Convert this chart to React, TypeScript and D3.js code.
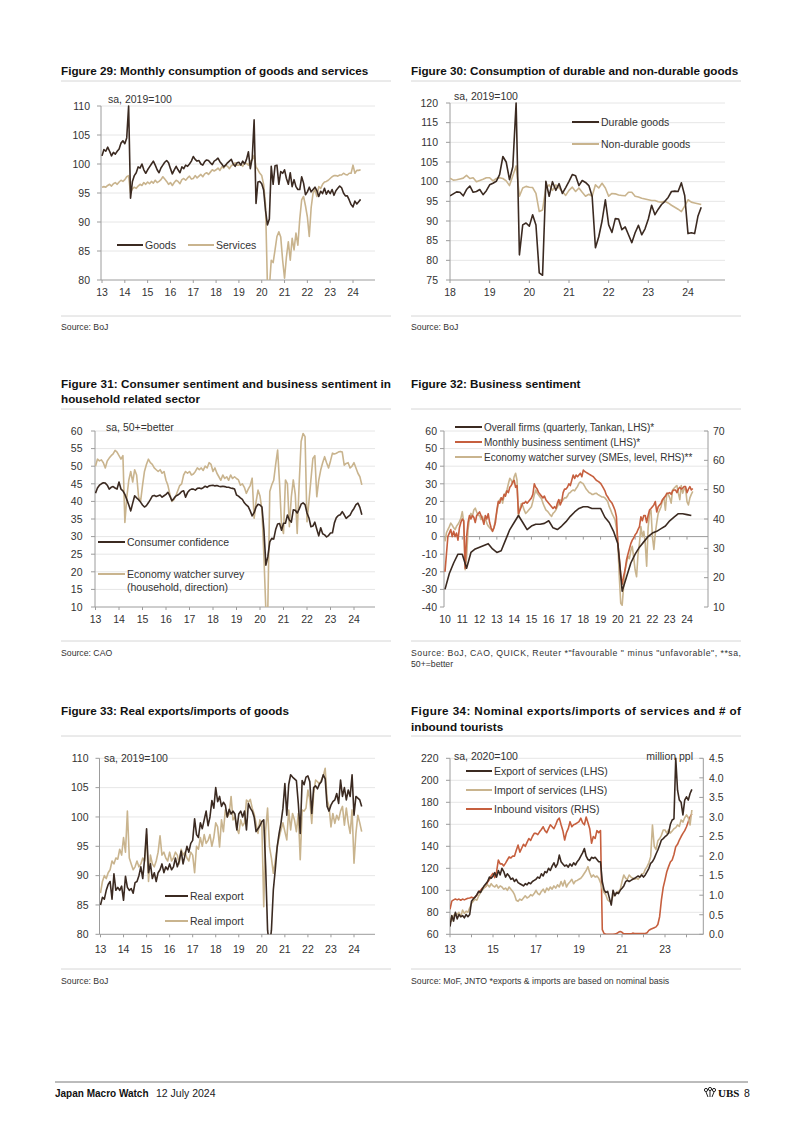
import React from "react";
import * as d3 from "d3";

const FONT = "'Liberation Sans', Arial, Helvetica, sans-serif";
const DARK = "#3b2a21";
const LIGHT = "#c9b48e";
const RED = "#c65f3e";
const GRID = "#e6e6e6";
const AXIS = "#9c9c9c";
const TEXT = "#333333";
const SEP = "#d6d6d6";

// ---------- Figure 29 (monthly from Jan 2013) ----------
const goods29 = [
  101.4, 102.5, 102.2, 102.9, 102.2, 101.4, 102.0, 101.7, 102.2, 102.6, 103.6, 104.0,
  103.5, 104.5, 110.0, 94.1, 97.0, 98.0, 98.5, 99.5, 99.3, 100.0, 99.0, 98.4,
  99.0, 99.5, 100.0, 100.5, 99.8, 99.0, 98.5, 99.3, 99.8, 100.3, 100.6, 100.2,
  99.2, 98.3, 99.0, 99.6, 99.0, 98.5, 99.5, 99.2, 99.8, 99.6, 100.0, 100.5,
  101.3, 100.8, 100.5, 100.6, 100.0, 99.8, 100.4, 100.7, 100.6, 100.2, 99.9, 100.5,
  100.7, 101.0, 100.4, 100.0, 99.5, 99.8, 100.2, 100.5, 100.8, 100.0, 99.6, 100.2,
  100.3, 99.8, 100.5, 100.0, 100.8, 102.1, 99.2, 101.0, 107.6, 93.2, 96.9, 97.0,
  96.6, 95.5, 92.0, 89.5, 90.5, 99.6, 96.5, 99.7, 99.8, 96.5, 98.7, 98.4,
  99.0, 97.5, 96.5, 98.5, 96.1, 97.3, 96.1, 95.6, 95.6, 97.8, 96.7, 94.7,
  95.2, 96.0, 95.2, 95.6, 96.0, 95.4, 94.4, 95.3, 94.9, 95.8, 94.8, 95.4,
  94.9, 95.6, 94.6, 95.4, 95.8, 96.2, 95.9, 95.0, 94.5, 94.5, 93.8, 93.0,
  92.6, 93.6, 93.1, 93.5, 93.9,
];
const services29 = [
  96.0, 96.1, 96.0, 96.3, 96.5, 96.2, 96.6, 96.8, 96.5, 96.9, 97.2, 97.0,
  97.3, 97.8, 98.0, 95.0, 95.7, 96.0, 95.8, 96.2, 96.5, 96.3, 96.8, 96.5,
  96.9, 96.6, 97.0, 96.7, 97.2, 96.8, 97.0, 97.3, 97.8, 97.4, 97.0, 96.5,
  96.8, 96.3, 96.8, 97.2, 97.0, 96.6, 97.3, 97.5, 97.2, 97.6, 97.9, 97.4,
  97.5, 98.0, 97.6, 97.9, 98.2, 97.8, 98.3, 98.5, 98.2, 98.6, 99.0, 98.8,
  99.0, 99.3, 98.9, 99.5, 99.3, 99.8, 99.6, 99.2, 99.7, 99.9, 100.2, 99.8,
  99.8, 100.0, 99.6, 100.2, 100.1, 99.8, 100.5, 100.7, 101.5, 99.5, 99.0, 98.4,
  98.0, 96.5, 93.0, 79.0, 78.5, 83.4, 83.0, 85.2, 87.5, 88.3, 87.4, 83.4,
  80.3, 84.0, 86.6, 83.4, 87.2, 85.2, 88.1, 86.0, 90.5, 93.8, 94.4, 92.8,
  90.9, 87.5, 92.5, 95.0, 95.6, 94.4, 96.1, 95.8, 96.5, 96.9, 97.0, 97.2,
  97.5, 97.8, 98.0, 98.0, 97.9, 98.1, 98.1, 98.4, 98.2, 98.1, 98.4, 98.4,
  99.8, 98.4, 98.9, 98.9, 99.0,
];

// ---------- Figure 30 (monthly from Jan 2018) ----------
const durable30 = [
  96.4, 96.9, 97.4, 97.3, 96.4, 98.0, 98.9, 97.3, 97.5, 98.0, 96.7, 97.7,
  99.2, 99.6, 100.1, 101.8, 106.4, 105.0, 100.5, 103.8, 120.0, 81.4, 89.0, 89.5,
  88.7, 91.6, 89.0, 76.8, 76.2, 100.1, 96.3, 100.0, 97.8, 99.5, 97.0, 98.5,
  100.1, 101.8, 101.5, 99.0, 100.3, 99.8, 99.0, 96.3, 83.2, 86.0, 90.0, 95.4,
  89.0, 87.1, 90.6, 90.5, 87.8, 88.5, 86.5, 84.5, 87.0, 88.9, 86.5, 88.0,
  90.5, 94.0, 91.6, 93.0, 94.2, 95.0, 96.0, 97.5, 97.6, 97.5, 99.7, 96.5,
  86.8, 87.0, 86.8, 91.2, 93.5,
];
const nondurable30 = [
  100.9, 100.4, 100.5, 100.7, 100.9, 101.6, 100.8, 101.0, 100.0, 100.3, 100.6, 101.0,
  101.0, 100.2, 100.8, 101.0, 100.8, 100.2, 99.0, 101.5, 104.0, 96.3, 98.4, 98.8,
  98.6, 98.5, 97.0, 92.4, 92.8, 98.4, 99.2, 97.8, 99.2, 98.4, 97.5, 96.5,
  97.8, 98.6, 97.5, 98.4, 97.3, 96.3, 96.8, 96.3, 99.2, 98.4, 99.6, 98.4,
  96.3, 97.0, 96.9, 96.6, 96.5, 96.4, 97.3, 97.3, 96.3, 96.1, 95.8, 95.6,
  95.4, 95.2, 95.2, 94.9, 94.8, 95.0, 94.6, 94.0, 93.5, 93.0, 92.4, 93.8,
  95.4, 94.8, 94.6, 94.4, 94.2,
];

// ---------- Figure 31 (monthly from Jan 2013) ----------
const consumerConf31 = [
  42.3, 43.8, 44.6, 45.0, 45.3, 45.2, 44.6, 43.5, 44.0, 44.2, 43.8, 43.5,
  45.5, 43.5, 43.0, 42.0, 40.5, 39.0, 37.3, 39.5, 41.6, 41.0, 40.5, 39.8,
  39.0, 38.4, 38.8, 39.6, 40.5, 41.5, 41.7, 41.4, 41.6, 41.8, 41.2, 41.6,
  42.0, 42.6, 41.5, 40.2, 40.8, 41.5, 41.8, 42.2, 42.8, 43.0, 41.2, 42.5,
  43.2, 43.5, 43.5, 43.2, 43.7, 43.8, 43.6, 43.9, 44.3, 44.0, 44.4, 44.5,
  44.6, 44.4, 44.5, 44.3, 44.2, 44.3, 44.2, 44.0, 44.0, 43.8, 43.7, 43.5,
  41.8, 41.5, 41.0, 40.6, 39.6, 39.0, 38.5, 37.3, 35.9, 36.8, 38.4, 39.2,
  39.0, 38.4, 31.9, 21.9, 24.3, 28.5, 29.5, 29.3, 32.0, 33.6, 33.7, 31.8,
  33.8, 33.8, 36.1, 34.7, 34.1, 37.6, 37.5, 36.7, 37.8, 39.2, 39.6, 39.1,
  36.7, 35.3, 32.8, 33.0, 34.1, 32.1, 30.2, 32.5, 30.8, 30.5, 29.9, 30.3,
  31.0, 31.1, 33.9, 35.4, 36.0, 36.2, 37.1, 36.2, 35.2, 35.7, 36.1, 37.2,
  38.0, 39.1, 39.5, 38.3, 36.2,
];
const watcherHH31 = [
  50.0, 52.0, 51.5, 51.8, 51.0, 49.5, 51.5, 52.3, 53.0, 53.5, 54.5, 54.0,
  53.0, 52.0, 53.0, 34.0, 41.3, 46.0, 48.5, 45.5, 49.0, 47.5, 41.3, 39.9,
  44.5, 48.5, 50.5, 52.0, 51.0, 50.5, 49.5, 49.0, 48.5, 49.0, 48.0, 48.5,
  46.0, 44.5, 42.0, 40.0, 40.5, 41.5, 43.0, 44.5, 45.0, 47.5, 48.5, 48.0,
  48.5, 47.5, 47.8, 48.5, 49.5, 49.0, 49.5, 48.8, 50.0, 49.5, 51.0, 50.5,
  48.5, 49.5, 48.0, 47.0, 46.0, 47.5, 46.5, 47.0, 46.0, 47.5, 46.5, 47.0,
  46.5, 46.1, 44.6, 45.0, 44.0, 42.3, 43.5, 44.5, 46.6, 35.2, 39.9, 43.2,
  41.5, 37.6, 24.3, 9.0, 9.8, 42.8, 44.7, 46.0, 50.5, 54.6, 45.0, 33.0,
  30.9, 46.1, 45.0, 32.8, 41.3, 46.1, 42.0, 30.9, 45.0, 57.0, 59.3, 58.4,
  34.2, 40.0, 46.1, 52.2, 53.0, 41.3, 46.0, 48.9, 51.0, 52.7, 51.0, 49.5,
  51.5, 53.7, 53.5, 53.7, 54.0, 54.2, 54.0, 50.3, 50.8, 51.0, 49.5, 50.0,
  51.0, 49.5, 48.0, 47.0, 44.7,
];

// ---------- Figure 32 ----------
// Tankan, quarterly from 2010 Q1 (LHS)
const tankan32 = [
  -30, -21, -15, -10,
  -10, -18, -9, -7,
  -6, -5, -4, -7,
  -9, -8, -2, 4,
  8, 12, 8, 4,
  6, 7, 7, 7.5,
  9, 5, 4, 6,
  8.5, 11.5, 14, 16,
  17, 17, 16, 16,
  16, 11, 8, 3,
  -4, -31, -23, -15,
  -10, -6, -3, 0,
  2, 3, 4.5, 6,
  9, 11, 13, 13,
  12.5, 12,
];
// Monthly business sentiment, monthly from Jan 2010 (LHS)
const monthlyBiz32 = [
  -20, -10, 0, 2, 4, 0, 3, 0, 2, -2, 5, 8,
  10, 9, -18, 0, 8, 12, 10, 12, 11, 8, 12, 13,
  14, 12, 10, 7, 12, 10, 13, 8, 5, 3, 5, 8,
  15, 20, 19, 22, 21, 24, 23, 26, 25, 28, 29, 31,
  32, 28, 29, 13, 15, 17, 19, 19, 20, 19, 20, 21,
  22, 24, 30, 28, 27, 25, 24, 23, 22, 23, 21, 20,
  19, 18, 17, 16, 17, 16, 19, 21, 18, 20, 25, 27,
  27, 28, 30, 29, 32, 35, 33, 35, 34, 35, 36, 34,
  37.8, 37, 36.5, 36, 35.5, 35, 34.5, 34, 33, 32, 31.5, 31,
  30.3, 29, 27.5, 26, 23.6, 22.5, 21, 20, 18.9, 17, 15, 11.3,
  -3.8, -12, -22, -27, -22.5, -19, -13.3, -10, -7, -4, -2, -0.8,
  1, 2, 4, 5.7, 11.3, 9, 12, 12, 8, 12, 15.1, 16,
  17, 18, 19.9, 14, 17, 18, 19, 21, 22, 23, 24.6, 24.6,
  25, 24, 26, 26.5, 26.5, 25, 27, 28, 27, 27.5, 28.4, 28.4,
  25, 27, 28.4, 26.5, 27.3,
];
// Economy watcher SMEs level, monthly from Jan 2010 (RHS)
const watcherSME32 = [
  32.4, 35.3, 36.4, 37.4, 38.6, 37.9, 37.0, 36.4, 37.5, 38.2, 39.1, 40.2,
  42.5, 38.8, 22.7, 26.8, 36.4, 40.2, 41.9, 40.8, 43.1, 43.7, 42.4, 41.2,
  41.2, 39.8, 40.9, 39.1, 40.3, 38.6, 37.6, 37.0, 36.4, 35.8, 37.0, 40.0,
  42.4, 45.3, 46.6, 47.2, 45.4, 47.8, 48.8, 49.9, 52.0, 53.9, 53.2, 52.0,
  54.4, 55.6, 53.2, 40.8, 43.6, 45.3, 44.5, 43.0, 41.9, 42.4, 43.0, 43.6,
  44.2, 46.0, 48.2, 49.9, 48.8, 48.2, 47.5, 46.9, 45.4, 44.2, 43.1, 42.7,
  42.1, 41.4, 40.9, 41.9, 42.4, 43.1, 44.2, 45.4, 46.5, 46.0, 46.6, 47.2,
  47.2, 47.8, 48.8, 49.0, 49.6, 49.9, 49.6, 50.4, 51.1, 52.2, 52.7, 52.3,
  52.0, 51.1, 50.2, 49.6, 49.0, 48.8, 48.4, 48.4, 48.7, 48.8, 48.4, 48.1,
  47.8, 47.5, 47.5, 47.2, 46.6, 45.9, 44.2, 43.1, 41.8, 40.8, 39.8, 37.0,
  31.7, 20.3, 11.3, 10.6, 17.1, 22.6, 24.9, 27.2, 26.5, 29.2, 30.7, 26.8,
  22.6, 20.3, 28.0, 31.7, 37.4, 34.0, 35.8, 31.7, 23.9, 37.0, 41.9, 43.0,
  34.0, 29.6, 35.2, 38.8, 41.9, 43.0, 44.2, 46.5, 47.2, 43.0, 48.8, 48.4,
  47.2, 45.4, 49.9, 50.5, 51.0, 51.4, 48.8, 46.6, 51.4, 48.8, 50.2, 50.5,
  45.9, 44.8, 47.2, 48.4, 49.4,
];

// ---------- Figure 33 (monthly from Jan 2013) ----------
const realExport33 = [
  85.0, 86.3, 86.0, 87.5, 88.5, 89.0, 86.0, 90.3, 87.5, 88.0, 87.5, 88.2,
  85.8, 89.9, 88.0, 87.5, 87.8, 87.0, 88.8, 89.0, 90.0, 91.5, 89.5, 93.0,
  98.0, 90.5, 92.0, 89.5, 90.5, 89.0, 90.5, 91.0, 92.0, 90.5, 91.5, 91.0,
  92.0, 91.0, 91.5, 93.0, 91.5, 92.5, 94.2, 92.0, 93.5, 95.0, 94.0, 95.5,
  96.0, 99.7, 97.0, 96.5, 99.0, 98.0, 99.5, 101.0, 98.5, 100.0, 102.8, 101.5,
  105.0, 102.6, 103.5, 101.8, 102.5, 102.0, 100.0, 101.3, 100.5, 101.0, 100.5, 97.8,
  100.5, 101.0, 100.0, 101.0, 97.8, 102.3, 101.5, 101.0, 100.0, 97.5, 98.0, 98.5,
  99.2, 99.5, 91.5, 80.7, 78.0, 80.7, 87.6, 91.0, 94.9, 97.2, 99.0, 101.5,
  105.7, 100.3, 105.5, 107.2, 106.8, 106.5, 106.2, 102.3, 97.2, 106.2, 105.5, 106.8,
  107.0, 106.0, 100.6, 105.0, 105.3, 104.8, 105.6, 106.0, 107.2, 106.5, 101.8, 101.0,
  102.0, 102.6, 102.9, 104.0, 102.3, 106.3, 103.5, 105.0, 102.9, 104.6, 103.5, 107.2,
  100.3, 103.5, 103.2, 102.9, 101.8,
];
const realImport33 = [
  87.0, 89.0, 90.0, 89.5, 90.5, 91.0, 92.5, 92.0, 93.0, 92.8, 94.5, 93.5,
  96.5, 94.0, 101.0, 93.0, 92.0, 91.0, 91.5, 92.5, 91.5, 92.0, 93.0, 92.5,
  97.0, 89.0, 93.5, 92.0, 91.5, 92.5, 94.0, 96.8, 93.5, 94.0, 93.0, 92.5,
  94.0, 92.5, 93.0, 94.0, 93.5, 92.0, 94.5, 93.5, 94.0, 93.0, 92.5, 94.0,
  93.5, 90.5, 95.0, 94.5, 96.5, 95.0, 97.0, 95.5, 96.0, 97.0, 95.0, 96.5,
  99.0, 98.3, 94.9, 99.5, 97.5, 101.2, 100.0, 100.5, 103.5, 99.5, 100.0, 98.0,
  97.2, 99.5, 98.5, 99.0, 102.9, 102.5, 103.0, 101.5, 100.5, 98.9, 97.2, 99.5,
  99.0, 84.7, 97.8, 101.5, 94.9, 93.0, 90.4, 92.5, 94.9, 96.5, 97.8, 99.0,
  97.5, 96.1, 101.2, 97.8, 100.6, 99.5, 97.5, 100.6, 92.7, 101.2, 101.0, 101.5,
  104.6, 102.9, 98.9, 104.0, 106.3, 106.0, 105.6, 106.3, 107.0, 108.3, 102.9, 101.8,
  98.3, 100.6, 98.9, 100.3, 99.5, 101.0, 101.8, 98.6, 101.5, 99.0, 97.2, 101.2,
  92.1, 97.2, 100.3, 99.0, 97.5,
];

// ---------- Figure 34 (monthly from Jan 2013) ----------
const exportServices34 = [
  67, 77, 72, 80, 74, 78, 76, 77, 75, 78, 76, 78,
  90, 92, 94, 96, 99, 98, 101, 104, 106, 108, 112, 111,
  113, 116, 112, 118, 114, 120, 117, 112, 115, 113, 110, 111,
  108, 110, 107, 106, 105, 104, 106, 105, 107, 106, 108, 109,
  110, 112, 111, 115, 113, 117, 116, 120, 118, 122, 125, 121,
  124, 132, 126, 124, 122, 123, 121, 124, 122, 125, 123, 126,
  128, 131, 134, 138, 131, 128, 127, 130, 129, 130, 128, 126,
  126, 107.8, 100.3, 98, 99, 92.7, 86.6, 100, 95, 98, 97, 100,
  101.8, 104, 107.8, 109, 108, 109, 110, 110.9, 112, 113, 112, 114,
  112, 114, 116.9, 120, 124.5, 126, 129, 133, 136.6, 141, 145.7, 147,
  148.7, 150, 152, 160, 163.9, 165, 220, 191, 182, 180, 168.5, 182,
  185, 182, 188, 191.8,
];
const importServices34 = [
  75, 72, 77, 79, 78, 80, 76, 82, 79, 81, 80, 84,
  88, 90, 92, 91, 95, 98, 100, 102, 104, 105, 103, 106,
  104, 103, 105, 102, 104, 103, 101, 102, 100, 103, 101, 99,
  96, 91, 90, 92, 91, 93, 95, 93, 94, 96, 95, 97,
  100, 97, 96, 99, 101, 98, 102, 100, 103, 101, 104, 102,
  105, 103, 108, 104, 109, 103, 106, 107.8, 110, 106, 108.5, 109,
  110, 111, 113, 115.5, 118, 121.5, 116, 112, 114, 112, 113, 111,
  107, 101, 98, 95.7, 91.2, 90, 89.7, 95, 96, 98, 99, 100.3,
  108, 113.9, 111, 110, 113.9, 112, 111, 110, 111, 110, 112, 115,
  115, 119, 121.5, 125, 130.6, 159.4, 140, 137, 145, 147, 150, 154.8,
  154.8, 152, 155, 152, 154, 156, 157, 159.4, 158, 164, 162, 166,
  168.5, 166, 159.4, 173,
];
const inbound34 = [
  0.64, 0.85, 0.88, 0.9, 0.88, 0.9, 0.87, 0.9, 0.88, 0.9, 0.92, 0.93,
  0.95, 0.93, 0.95, 1.0, 1.09, 1.12, 1.18, 1.2, 1.22, 1.34, 1.4, 1.5,
  1.56, 1.45, 1.6, 1.9, 1.8, 1.8, 1.75, 1.82, 1.9, 1.98, 1.95, 2.0,
  2.0, 2.15, 2.28, 2.1, 2.2, 2.3, 2.25, 2.35, 2.45, 2.4, 2.5, 2.58,
  2.58, 2.55, 2.62, 2.68, 2.75, 2.65, 2.6, 2.7, 2.8, 2.75, 2.7, 2.8,
  2.92, 2.97, 2.8, 2.65, 2.41, 2.6, 2.7, 2.88, 2.75, 2.8, 2.82, 2.85,
  2.88, 2.97, 2.85, 2.8, 3.0, 2.85, 2.7, 2.33, 2.5, 2.45, 2.65, 2.6,
  2.65, 0.12, 0.02, 0.0, 0.0, 0.0, 0.0, 0.0, 0.01, 0.02, 0.05, 0.07,
  0.05, 0.01, 0.01, 0.01, 0.01, 0.01, 0.03, 0.02, 0.02, 0.02, 0.02, 0.02,
  0.02, 0.02, 0.04, 0.1, 0.13, 0.15, 0.17, 0.19, 0.25, 0.45, 0.88, 1.2,
  1.39, 1.6, 1.73, 1.85, 1.9, 2.04, 2.24, 2.3, 2.41, 2.5, 2.58, 2.65,
  2.75, 2.88, 3.0, 3.08,
];

// ---------- tick labels ----------
const yTicks29 = [80, 85, 90, 95, 100, 105, 110];
const xYears29 = [13, 14, 15, 16, 17, 18, 19, 20, 21, 22, 23, 24];
const yTicks30 = [75, 80, 85, 90, 95, 100, 105, 110, 115, 120];
const xYears30 = [18, 19, 20, 21, 22, 23, 24];
const yTicks31 = [10, 15, 20, 25, 30, 35, 40, 45, 50, 55, 60];
const yTicks32L = [-40, -30, -20, -10, 0, 10, 20, 30, 40, 50, 60];
const yTicks32R = [10, 20, 30, 40, 50, 60, 70];
const xYears32 = [10, 11, 12, 13, 14, 15, 16, 17, 18, 19, 20, 21, 22, 23, 24];
const yTicks33 = [80, 85, 90, 95, 100, 105, 110];
const yTicks34L = [60, 80, 100, 120, 140, 160, 180, 200, 220];
const yTicks34R = [0, 0.5, 1, 1.5, 2, 2.5, 3, 3.5, 4, 4.5];
const xTicks34 = [13, 14, 15, 16, 17, 18, 19, 20, 21, 22, 23, 24];
const xLabels34 = [13, 15, 17, 19, 21, 23];

type Series = { values: number[]; start: number; step: number; color: string; width?: number; right?: boolean };

type ChartProps = {
  id: string;
  xDomain: [number, number];
  xRange: [number, number];
  left: number;
  right: number;
  top: number;
  bottom: number;
  yDomain: [number, number];
  yTicks: number[];
  yLabelX: number;
  yRDomain?: [number, number];
  yRTicks?: number[];
  yRLabelX?: number;
  yRFmt?: (v: number) => string;
  grid: number[];
  xAxisAt?: number;
  xTicks: number[];
  xLabels: number[];
  xLabelY: number;
  series: Series[];
};

function Chart(p: ChartProps) {
  const x = d3.scaleLinear().domain(p.xDomain).range(p.xRange);
  const y = d3.scaleLinear().domain(p.yDomain).range([p.bottom, p.top]);
  const yR = p.yRDomain ? d3.scaleLinear().domain(p.yRDomain).range([p.bottom, p.top]) : null;
  const axisY = p.xAxisAt !== undefined ? y(p.xAxisAt) : p.bottom;
  const mk = (s: Series) => {
    const sy = s.right && yR ? yR : y;
    return d3
      .line<number>()
      .x((_, i) => x(s.start + i * s.step))
      .y((d) => sy(d))(s.values) as string;
  };
  return (
    <g fontFamily={FONT}>
      <defs>
        <clipPath id={p.id}>
          <rect x={p.left} y={p.top - 3} width={p.right - p.left} height={p.bottom - p.top + 3} />
        </clipPath>
      </defs>
      {p.grid.map((t) => (
        <line key={"g" + t} x1={p.left} x2={p.right} y1={y(t)} y2={y(t)} stroke={GRID} strokeWidth={1} />
      ))}
      <line x1={p.left} x2={p.left} y1={p.top} y2={p.bottom} stroke={AXIS} strokeWidth={1} />
      {p.yTicks.map((t) => (
        <g key={"y" + t}>
          <line x1={p.left - 4} x2={p.left} y1={y(t)} y2={y(t)} stroke={AXIS} />
          <text x={p.yLabelX} y={y(t)} dy="0.36em" textAnchor="end" fontSize={10.5} fill={TEXT}>
            {String(t)}
          </text>
        </g>
      ))}
      {yR && (
        <g>
          <line x1={p.right} x2={p.right} y1={p.top} y2={p.bottom} stroke={AXIS} strokeWidth={1} />
          {(p.yRTicks || []).map((t) => (
            <g key={"r" + t}>
              <line x1={p.right - 4} x2={p.right} y1={yR(t)} y2={yR(t)} stroke={AXIS} />
              <text x={p.yRLabelX} y={yR(t)} dy="0.36em" textAnchor="start" fontSize={10.5} fill={TEXT}>
                {p.yRFmt ? p.yRFmt(t) : String(t)}
              </text>
            </g>
          ))}
        </g>
      )}
      <line x1={p.left} x2={p.right} y1={axisY} y2={axisY} stroke={AXIS} strokeWidth={1} />
      {p.xTicks.map((t) => (
        <line key={"xt" + t} x1={x(t)} x2={x(t)} y1={axisY} y2={axisY + 3} stroke={AXIS} />
      ))}
      {p.xLabels.map((t) => (
        <text key={"xl" + t} x={x(t)} y={p.xLabelY} textAnchor="middle" fontSize={10.5} fill={TEXT}>
          {String(t)}
        </text>
      ))}
      <g clipPath={`url(#${p.id})`}>
        {p.series.map((s, i) => (
          <path key={i} d={mk(s)} fill="none" stroke={s.color} strokeWidth={s.width ?? 1.6} strokeLinejoin="round" />
        ))}
      </g>
    </g>
  );
}

function Legend({ x1, x2, y, color, label, lines, width, fontSize }: { x1: number; x2: number; y: number; color: string; label?: string; lines?: string[]; width?: number; fontSize?: number }) {
  const ls = lines || [label || ""];
  return (
    <g fontFamily={FONT}>
      <line x1={x1} x2={x2} y1={y} y2={y} stroke={color} strokeWidth={width ?? 2} />
      {ls.map((l, i) => (
        <text key={i} x={x2 + 2} y={y + 3.7 + i * 13} fontSize={fontSize ?? 10.5} fill={TEXT}>
          {l}
        </text>
      ))}
    </g>
  );
}

function Title({ x, y, lines, justify }: { x: number; y: number; lines: string[]; justify?: number }) {
  return (
    <g fontFamily={FONT} fontWeight="bold" fontSize={11.7} fill="#111">
      {lines.map((l, i) =>
        i === 0 && justify && lines.length > 1 ? (
          <text key={i} x={x} y={y} textLength={justify} lengthAdjust="spacing">
            {l}
          </text>
        ) : (
          <text key={i} x={x} y={y + i * 15.5}>
            {l}
          </text>
        )
      )}
    </g>
  );
}

function Source({ x, y, lines, justify }: { x: number; y: number; lines: string[]; justify?: number }) {
  return (
    <g fontFamily={FONT} fontSize={8.7} fill={TEXT}>
      {lines.map((l, i) =>
        i === 0 && justify && lines.length > 1 ? (
          <text key={i} x={x} y={y} textLength={justify} lengthAdjust="spacing">
            {l}
          </text>
        ) : (
          <text key={i} x={x} y={y + i * 11}>
            {l}
          </text>
        )
      )}
    </g>
  );
}

function Sep({ x1, x2, y }: { x1: number; x2: number; y: number }) {
  return <line x1={x1} x2={x2} y1={y} y2={y} stroke={SEP} strokeWidth={1} />;
}

export default function App() {
  return (
    <svg width={802} height={1134} style={{ position: "absolute", left: 0, top: 0, background: "#fff" }}>
      <rect x={0} y={0} width={802} height={1134} fill="#fff" />

      {/* ---------- Figure 29 ---------- */}
      <Title x={61} y={75} lines={["Figure 29: Monthly consumption of goods and services"]} />
      <Sep x1={61} x2={391} y={81} />
      <Chart
        id="c29"
        xDomain={[13, 24]}
        xRange={[102, 353]}
        left={101}
        right={375}
        top={106}
        bottom={280}
        yDomain={[80, 110]}
        yTicks={yTicks29}
        yLabelX={90}
        grid={[85, 90, 95, 100, 105, 110]}
        xTicks={xYears29}
        xLabels={xYears29}
        xLabelY={296}
        series={[
          { values: services29, start: 13, step: 1 / 12, color: LIGHT },
          { values: goods29, start: 13, step: 1 / 12, color: DARK },
        ]}
      />
      <text x={108} y={102.5} fontFamily={FONT} fontSize={10.5} fill={TEXT}>sa, 2019=100</text>
      <Legend x1={117} x2={143} y={245} color={DARK} label="Goods" />
      <Legend x1={188} x2={214} y={245} color={LIGHT} label="Services" />
      <Sep x1={61} x2={391} y={316} />
      <Source x={61} y={330} lines={["Source: BoJ"]} />

      {/* ---------- Figure 30 ---------- */}
      <Title x={411} y={75} lines={["Figure 30: Consumption of durable and non-durable goods"]} />
      <Sep x1={411} x2={741} y={81} />
      <Chart
        id="c30"
        xDomain={[18, 24]}
        xRange={[450, 688]}
        left={450}
        right={725}
        top={103}
        bottom={280}
        yDomain={[75, 120]}
        yTicks={yTicks30}
        yLabelX={438}
        grid={[80, 85, 90, 95, 100, 105, 110, 115, 120]}
        xTicks={xYears30}
        xLabels={xYears30}
        xLabelY={296}
        series={[
          { values: nondurable30, start: 18, step: 1 / 12, color: LIGHT },
          { values: durable30, start: 18, step: 1 / 12, color: DARK },
        ]}
      />
      <text x={454} y={100} fontFamily={FONT} fontSize={10.5} fill={TEXT}>sa, 2019=100</text>
      <Legend x1={572} x2={599} y={122} color={DARK} label="Durable goods" />
      <Legend x1={572} x2={599} y={144} color={LIGHT} label="Non-durable goods" />
      <Sep x1={411} x2={741} y={316} />
      <Source x={411} y={330} lines={["Source: BoJ"]} />

      {/* ---------- Figure 31 ---------- */}
      <Title
        x={61}
        y={387.5}
        justify={330}
        lines={["Figure 31: Consumer sentiment and business sentiment in", "household related sector"]}
      />
      <Sep x1={61} x2={391} y={409} />
      <Chart
        id="c31"
        xDomain={[13, 24]}
        xRange={[95.5, 354]}
        left={95}
        right={375}
        top={431}
        bottom={607}
        yDomain={[10, 60]}
        yTicks={yTicks31}
        yLabelX={82.5}
        grid={[15, 20, 25, 30, 35, 40, 45, 50, 55, 60]}
        xTicks={xYears29}
        xLabels={xYears29}
        xLabelY={623}
        series={[
          { values: watcherHH31, start: 13, step: 1 / 12, color: LIGHT },
          { values: consumerConf31, start: 13, step: 1 / 12, color: DARK },
        ]}
      />
      <text x={106} y={431} fontFamily={FONT} fontSize={10.5} fill={TEXT}>sa, 50+=better</text>
      <Legend x1={98} x2={125} y={542} color={DARK} label="Consumer confidence" />
      <Legend x1={98} x2={125} y={574} color={LIGHT} lines={["Economy watcher survey", "(household, direction)"]} />
      <Sep x1={61} x2={391} y={641} />
      <Source x={61} y={656} lines={["Source: CAO"]} />

      {/* ---------- Figure 32 ---------- */}
      <Title x={411} y={387.5} lines={["Figure 32: Business sentiment"]} />
      <Sep x1={411} x2={741} y={409} />
      <Chart
        id="c32"
        xDomain={[10, 24]}
        xRange={[445, 687]}
        left={444}
        right={708}
        top={431}
        bottom={607}
        yDomain={[-40, 60]}
        yTicks={yTicks32L}
        yLabelX={437}
        yRDomain={[10, 70]}
        yRTicks={yTicks32R}
        yRLabelX={713}
        grid={[-30, -20, -10, 10, 20, 30, 40, 50, 60]}
        xAxisAt={0}
        xTicks={xYears32}
        xLabels={xYears32}
        xLabelY={623}
        series={[
          { values: watcherSME32, start: 10, step: 1 / 12, color: LIGHT, right: true },
          { values: monthlyBiz32, start: 10, step: 1 / 12, color: RED },
          { values: tankan32, start: 10, step: 0.25, color: DARK },
        ]}
      />
      <Legend x1={455} x2={482} y={427} color={DARK} fontSize={10} label="Overall firms (quarterly, Tankan, LHS)*" />
      <Legend x1={455} x2={482} y={442} color={RED} fontSize={10} label="Monthly business sentiment (LHS)*" />
      <Legend x1={455} x2={482} y={457} color={LIGHT} fontSize={10} label="Economy watcher survey (SMEs, level, RHS)**" />
      <Sep x1={411} x2={741} y={641} />
      <Source
        x={411}
        y={656}
        justify={330}
        lines={['Source: BoJ, CAO, QUICK, Reuter *"favourable " minus "unfavorable", **sa,', "50+=better"]}
      />

      {/* ---------- Figure 33 ---------- */}
      <Title x={61} y={715} lines={["Figure 33: Real exports/imports of goods"]} />
      <Sep x1={61} x2={391} y={736} />
      <Chart
        id="c33"
        xDomain={[13, 24]}
        xRange={[100.5, 354]}
        left={99.5}
        right={375}
        top={758.3}
        bottom={934.3}
        yDomain={[80, 110]}
        yTicks={yTicks33}
        yLabelX={88.5}
        grid={[85, 90, 95, 100, 105, 110]}
        xTicks={xYears29}
        xLabels={xYears29}
        xLabelY={952.5}
        series={[
          { values: realImport33, start: 13, step: 1 / 12, color: LIGHT },
          { values: realExport33, start: 13, step: 1 / 12, color: DARK },
        ]}
      />
      <text x={104} y={762} fontFamily={FONT} fontSize={10.5} fill={TEXT}>sa, 2019=100</text>
      <Legend x1={165} x2={188} y={896} color={DARK} label="Real export" />
      <Legend x1={165} x2={188} y={921} color={LIGHT} label="Real import" />
      <Sep x1={61} x2={391} y={969} />
      <Source x={61} y={984} lines={["Source: BoJ"]} />

      {/* ---------- Figure 34 ---------- */}
      <Title
        x={411}
        y={715}
        justify={330}
        lines={["Figure 34: Nominal exports/imports of services and # of", "inbound tourists"]}
      />
      <Sep x1={411} x2={741} y={736} />
      <Chart
        id="c34"
        xDomain={[13, 24]}
        xRange={[450, 686.5]}
        left={450}
        right={703.3}
        top={758.3}
        bottom={934.3}
        yDomain={[60, 220]}
        yTicks={yTicks34L}
        yLabelX={438.5}
        yRDomain={[0, 4.5]}
        yRTicks={yTicks34R}
        yRLabelX={709}
        yRFmt={(v) => v.toFixed(1)}
        grid={[80, 100, 120, 140, 160, 180, 200, 220]}
        xTicks={xTicks34}
        xLabels={xLabels34}
        xLabelY={952.5}
        series={[
          { values: inbound34, start: 13, step: 1 / 12, color: RED, right: true },
          { values: importServices34, start: 13, step: 1 / 12, color: LIGHT },
          { values: exportServices34, start: 13, step: 1 / 12, color: DARK },
        ]}
      />
      <text x={454} y={760} fontFamily={FONT} fontSize={10.5} fill={TEXT}>sa, 2020=100</text>
      <text x={693} y={760} fontFamily={FONT} fontSize={10.5} fill={TEXT} textAnchor="end">million ppl</text>
      <Legend x1={466} x2={492} y={771} color={DARK} label="Export of services (LHS)" />
      <Legend x1={466} x2={492} y={790} color={LIGHT} label="Import of services (LHS)" />
      <Legend x1={466} x2={492} y={809} color={RED} label="Inbound visitors (RHS)" />
      <Sep x1={411} x2={741} y={969} />
      <Source x={411} y={984} lines={["Source: MoF, JNTO *exports & imports are based on nominal basis"]} />

      {/* ---------- Footer ---------- */}
      <line x1={55} x2={748} y1={1082} y2={1082} stroke="#555" strokeWidth={0.8} />
      <text x={55} y={1097} fontFamily={FONT} fontWeight="bold" fontSize={10} fill="#111">Japan Macro Watch</text>
      <text x={156} y={1097} fontFamily={FONT} fontSize={10.5} fill="#222">12 July 2024</text>
      <g stroke="#222" strokeWidth={1} fill="none">
        <circle cx={706} cy={1090} r={1.6} />
        <circle cx={710} cy={1089} r={1.6} />
        <circle cx={714} cy={1090} r={1.6} />
        <line x1={706} x2={708} y1={1092} y2={1097} />
        <line x1={710} x2={710} y1={1091} y2={1097} />
        <line x1={714} x2={712} y1={1092} y2={1097} />
      </g>
      <text x={718} y={1097} fontFamily="'Liberation Serif', 'DejaVu Serif', serif" fontWeight="bold" fontSize={11} fill="#111">UBS</text>
      <text x={744} y={1097} fontFamily={FONT} fontSize={10.5} fill="#111">8</text>
    </svg>
  );
}
